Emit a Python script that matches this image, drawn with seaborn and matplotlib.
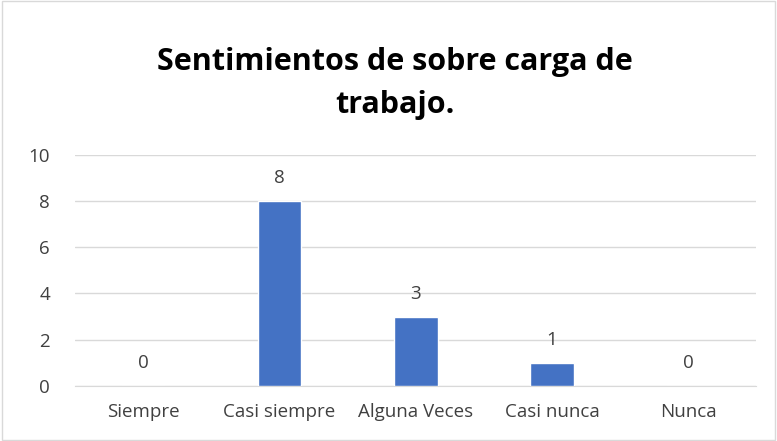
import matplotlib
matplotlib.use("Agg")
import matplotlib.pyplot as plt
import seaborn as sns
import pandas as pd

categorias = ["Siempre", "Casi siempre", "Alguna Veces", "Casi nunca", "Nunca"]
valores = [0, 8, 3, 1, 0]
titulo = "Sentimientos de sobre carga de\ntrabajo."

df = pd.DataFrame({"cat": categorias, "val": valores})

sns.set_style("white")
plt.rcParams['font.family'] = ['Open Sans', 'DejaVu Sans']

fig = plt.figure(figsize=(7.77, 4.41), dpi=100)
ax = fig.add_axes([0.0965, 0.125, 0.877, 0.524])

sns.barplot(data=df, x="cat", y="val", color="#4472C4", width=0.32,
            saturation=1, ax=ax, zorder=3)

ax.set_ylim(0, 10)
ax.set_yticks(range(0, 11, 2))
ax.yaxis.grid(True, color="#d9d9d9", linewidth=1, zorder=0)
for s in ["top", "right", "left"]:
    ax.spines[s].set_visible(False)
ax.spines["bottom"].set_color("#d9d9d9")
ax.tick_params(axis="y", length=0, labelsize=13.5, colors="#404040", pad=18)
ax.tick_params(axis="x", length=0, labelsize=13.5, colors="#404040", pad=12)
ax.set_xlabel("")
ax.set_ylabel("")

for i, v in enumerate(valores):
    ax.text(i, v + 0.6, str(v), ha="center", va="bottom", fontsize=13.5, color="#404040")

fig.text(0.508, 0.81, titulo, ha="center", va="center", fontsize=22,
         fontweight="bold", color="black", linespacing=1.55)

# borde del grafico
rect = plt.Rectangle((0.002, 0.002), 0.996, 0.996, transform=fig.transFigure,
                     fill=False, edgecolor="#d9d9d9", linewidth=1)
fig.add_artist(rect)

fig.savefig("out.png", dpi=100)
